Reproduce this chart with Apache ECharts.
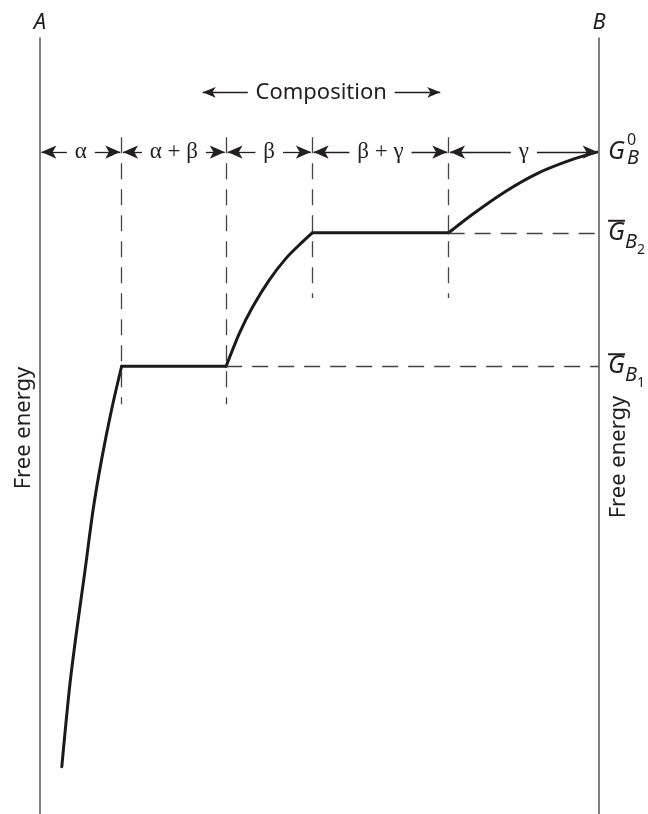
<!DOCTYPE html>
<html>
<head>
<meta charset="utf-8">
<script src="https://cdn.jsdelivr.net/npm/echarts@6/dist/echarts.min.js"></script>
<style>
  html, body { margin: 0; padding: 0; background: #fff; }
  #chart { width: 648px; height: 814px; }
</style>
</head>
<body>
<div id="chart"></div>
<script>
// composition runs from A (0) to B (100); free energy in arbitrary units
const alphaCurve = [[3.9, 6.1], [5.3, 16.4], [6.5, 23.3], [8.0, 31.1], [9.5, 39.2], [11.0, 45.6], [12.8, 52.1], [14.6, 57.7]];
const alphaBetaTie = [[14.6, 57.7], [33.3, 57.7]];
const betaCurve = [[33.3, 57.7], [35.7, 62.0], [38.0, 65.3], [41.0, 68.8], [44.0, 71.6], [46.9, 73.7], [48.7, 74.9]];
const betaGammaTie = [[48.7, 74.9], [73.1, 74.9]];
const gammaCurve = [[73.1, 74.9], [77.2, 77.2], [83.2, 80.2], [89.1, 82.6], [95.0, 84.3], [99.6, 85.3]];

const phaseBounds = [0, 14.6, 33.3, 48.7, 73.1, 100];
const phaseNames = ['α', 'α + β', 'β', 'β + γ', 'γ'];
const boundaryDashTop = 87.2;
const boundaryDashBottom = [52.8, 52.8, 66.5, 66.5];
const phaseRowY = [85.3];
const compositionRow = [29.1, 50.3, 71.6, 93.0]; // left tip, centre, right tip, height

const levelValues = [57.7, 74.9, 85.3];
const levelLabels = ['{bar|}\n{G|G}{sub|B}{num|1}', '{bar|}\n{G|G}{sub|B}{num|2}', '{G0|G}{sup|0}{sub0|B}'];

const ink = '#231f20';
const sans = '"Noto Sans", "Open Sans", sans-serif';
const serif = '"Liberation Serif", "DejaVu Serif", serif';
const gridLeft = 40, gridRight = 47, gridTop = 38;
const unitPx = (648 - gridLeft - gridRight) / 100;

const ctx = document.createElement('canvas').getContext('2d');
function halfGap(text, font, pad) {
  ctx.font = font;
  return (ctx.measureText(text).width / 2 + pad) / unitPx;
}

const arrowHead = { symbol: 'arrow', symbolSize: [10, 15] };
const arrowLines = [];
const phaseMarks = [];
const greekFont = '23px ' + serif;
phaseNames.forEach((name, i) => {
  const a = phaseBounds[i], b = phaseBounds[i + 1];
  const c = (a + b) / 2;
  const g = halfGap(name, greekFont, 8);
  const y = phaseRowY[0];
  arrowLines.push([{ coord: [c - g, y], symbol: 'none' }, Object.assign({ coord: [a + 0.25, y] }, arrowHead)]);
  arrowLines.push([{ coord: [c + g, y], symbol: 'none' }, Object.assign({ coord: [b - 0.25, y] }, arrowHead)]);
  phaseMarks.push({ name, coord: [c, y] });
});

const compGap = halfGap('Composition', '22px ' + sans, 8);
const compHead = { symbol: 'arrow', symbolSize: [8, 13] };
arrowLines.push([{ coord: [compositionRow[1] - compGap, compositionRow[3]], symbol: 'none' }, Object.assign({ coord: [compositionRow[0], compositionRow[3]] }, compHead)]);
arrowLines.push([{ coord: [compositionRow[1] + compGap, compositionRow[3]], symbol: 'none' }, Object.assign({ coord: [compositionRow[2], compositionRow[3]] }, compHead)]);

const guideLines = phaseBounds.slice(1, -1).map((x, i) => [
  { coord: [x, boundaryDashTop] }, { coord: [x, boundaryDashBottom[i]] }
]);
guideLines.push([{ coord: alphaBetaTie[1] }, { coord: [100, alphaBetaTie[1][1]] }]);
guideLines.push([{ coord: betaGammaTie[1] }, { coord: [100, betaGammaTie[1][1]] }]);

const curveLine = { color: '#1a1a1a', width: 3, cap: 'round', join: 'round' };
function curve(data, smooth) {
  return {
    type: 'line', data, smooth, symbol: 'none',
    lineStyle: curveLine, silent: true, z: 3
  };
}

const chart = echarts.init(document.getElementById('chart'), null, { renderer: 'canvas' });
chart.setOption({
  animation: false,
  backgroundColor: '#fff',
  grid: { left: gridLeft, right: gridRight, top: gridTop, bottom: 0 },
  xAxis: { type: 'value', min: 0, max: 100, show: false },
  yAxis: [
    {
      type: 'value', min: 0, max: 100, position: 'left',
      name: 'A', nameLocation: 'end', nameGap: 4,
      nameTextStyle: { color: ink, fontFamily: sans, fontStyle: 'italic', fontSize: 22, align: 'center' },
      axisLine: { show: true, lineStyle: { color: '#555', width: 1.5 } },
      axisTick: { show: false }, axisLabel: { show: false }, splitLine: { show: false }
    },
    {
      type: 'value', min: 0, max: 100, position: 'right',
      name: 'B', nameLocation: 'end', nameGap: 4,
      nameTextStyle: { color: ink, fontFamily: sans, fontStyle: 'italic', fontSize: 22, align: 'center' },
      axisLine: { show: true, lineStyle: { color: '#555', width: 1.5 } },
      axisTick: { show: false }, splitLine: { show: false },
      axisLabel: {
        show: true, margin: 9, customValues: levelValues,
        formatter: (v) => levelLabels[levelValues.indexOf(v)] || '',
        rich: {
          bar: { width: 17, height: 2, lineHeight: 19, verticalAlign: 'bottom', backgroundColor: ink },
          G: { color: ink, fontFamily: sans, fontStyle: 'italic', fontSize: 25, height: 22, lineHeight: 22, verticalAlign: 'top' },
          sub: { color: ink, fontFamily: sans, fontStyle: 'italic', fontSize: 20, height: 41, lineHeight: 41, verticalAlign: 'middle' },
          num: { color: ink, fontFamily: sans, fontSize: 14, height: 26, lineHeight: 26, verticalAlign: 'bottom' },
          G0: { color: ink, fontFamily: sans, fontStyle: 'italic', fontSize: 25, verticalAlign: 'middle' },
          sup: { color: ink, fontFamily: sans, fontSize: 16, width: 0, height: 16, lineHeight: 16, verticalAlign: 'top', padding: [0, 0, 0, 2] },
          sub0: { color: ink, fontFamily: sans, fontStyle: 'italic', fontSize: 20, height: 28, lineHeight: 40, verticalAlign: 'bottom' }
        }
      }
    }
  ],
  graphic: [
    { type: 'text', x: 24, y: 428, rotation: Math.PI / 2,
      style: { text: 'Free energy', fill: ink, font: '22px ' + sans, align: 'center', verticalAlign: 'middle' } },
    { type: 'text', x: 619, y: 457, rotation: Math.PI / 2,
      style: { text: 'Free energy', fill: ink, font: '22px ' + sans, align: 'center', verticalAlign: 'middle' } }
  ],
  series: [
    curve(alphaCurve, 0.3),
    curve(alphaBetaTie, false),
    curve(betaCurve, 0.3),
    curve(betaGammaTie, false),
    curve(gammaCurve, 0.3),
    {
      type: 'line', data: [], silent: true,
      markLine: {
        silent: true, animation: false, symbol: 'none',
        label: { show: false },
        lineStyle: { color: '#444', width: 1.3, type: [16, 10] },
        emphasis: { disabled: true },
        data: guideLines
      }
    },
    {
      type: 'line', data: [], silent: true,
      markLine: {
        silent: true, animation: false, symbol: 'none',
        label: { show: false },
        lineStyle: { color: ink, width: 1.3, type: 'solid' },
        itemStyle: { color: ink },
        emphasis: { disabled: true },
        data: arrowLines
      },
      markPoint: {
        silent: true, animation: false, symbol: 'circle', symbolSize: 0,
        itemStyle: { color: 'transparent' },
        label: { show: true, position: 'inside', formatter: '{b}', color: ink, fontFamily: serif, fontSize: 23 },
        data: phaseMarks.concat([{
          name: 'Composition', coord: [compositionRow[1], compositionRow[3]],
          label: { fontFamily: sans, fontSize: 22 }
        }])
      }
    }
  ]
});
</script>
</body>
</html>
